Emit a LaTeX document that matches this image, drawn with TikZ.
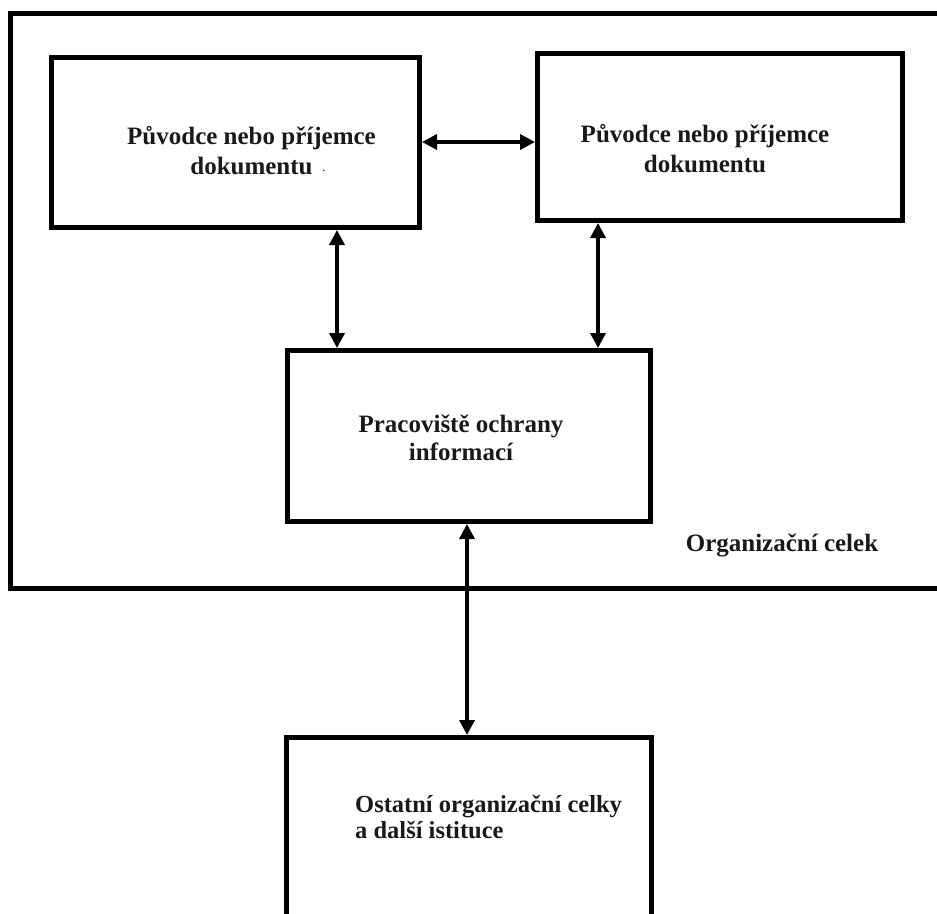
\documentclass[tikz,border=0pt]{standalone}
\usepackage{fontspec}
\setmainfont{Liberation Serif}
\usetikzlibrary{arrows.meta}
\begin{document}
\begin{tikzpicture}[x=1pt,y=-1pt,
  box/.style={draw, line width=5pt, inner sep=0pt},
  frame/.style={draw, line width=5pt, line join=miter},
  lbl/.style={font=\bfseries\fontsize{25}{30}\selectfont, align=center, inner sep=0pt, text=black!90},
  biarrow/.style={line width=3.5pt,
    {Triangle[length=15pt,width=15pt]}-{Triangle[length=15pt,width=15pt]}}
]
\useasboundingbox (0,0) rectangle (937,913);

% organisational unit frame (open to the right)
\coordinate (ftr) at (945,13.5);
\coordinate (ftl) at (10.5,13.5);
\coordinate (fbl) at (10.5,588);
\coordinate (fbr) at (945,588);
\draw[frame] (ftr) -- (ftl) -- (fbl) -- (fbr);

% boxes
\node[box, minimum width=368pt, minimum height=170pt] (lbox) at (235.5,142.5) {};
\node[box, minimum width=365pt, minimum height=167pt] (rbox) at (720,137) {};
\node[box, minimum width=363pt, minimum height=171pt] (mbox) at (469,436) {};
\node[box, minimum width=365pt, minimum height=200pt] (bbox) at (469,837.5) {};

% texts
\node[lbl] (ltext) at (251.5,151) {Původce nebo příjemce\\dokumentu\rlap{\hspace{10pt}\raisebox{0.3ex}{\fontsize{10}{10}\selectfont.}}};
\node[lbl] (rtext) at (705,149) {Původce nebo příjemce\\dokumentu};
\node[lbl, font=\bfseries\fontsize{25}{28}\selectfont] (mtext) at (461,438) {Pracoviště ochrany\\informací};
\node[lbl, font=\bfseries\fontsize{24.5}{26}\selectfont, align=left, anchor=west] (btext) at (355,817) {Ostatní organizační celky\\a další istituce};
\node[lbl] (ftext) at (782,545) {Organizační celek};

% connectors
\draw[biarrow] (lbox.east |- 0,142) -- (rbox.west |- 0,142);
\draw[biarrow] (337,0 |- lbox.south) -- (337,0 |- mbox.north);
\draw[biarrow] (598,0 |- rbox.south) -- (598,0 |- mbox.north);
\draw[biarrow] (467,0 |- mbox.south) -- (467,0 |- bbox.north);
\end{tikzpicture}
\end{document}
